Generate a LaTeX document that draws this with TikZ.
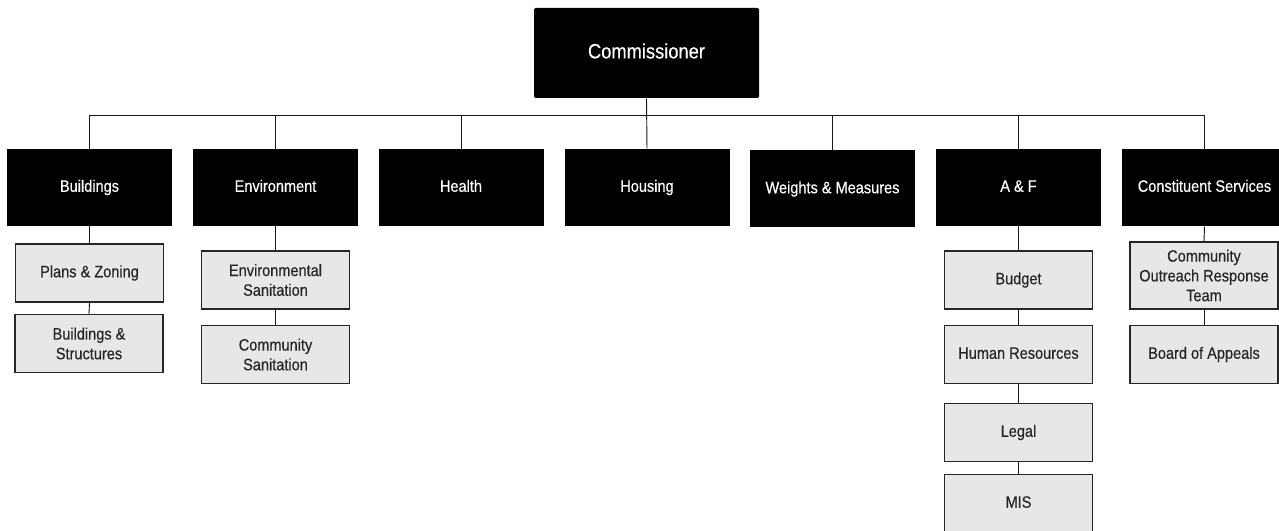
\documentclass[tikz,border=0pt]{standalone}
\usepackage{fontspec}
\setmainfont{Liberation Sans}[FakeStretch=0.88,FakeBold=0.4]
\begin{document}
\begin{tikzpicture}[x=0.75pt,y=-0.75pt,
  conn/.style={draw=black!90, line width=0.7pt},
  topbox/.style={fill=black, text=white, minimum width=168.75pt, minimum height=67.5pt, inner sep=0pt, rounded corners=1pt, text height=11.3pt, text depth=3.2pt, font=\fontsize{15.6}{18}\selectfont},
  deptbox/.style={fill=black, text=white, minimum width=123.75pt, minimum height=57.75pt, inner sep=0pt, text height=9pt, text depth=2.6pt, font=\fontsize{12.4}{14.8}\selectfont},
  subbox/.style={fill={rgb,255:red,231;green,231;blue,231}, draw=black!85, line width=1pt, text=black!85, minimum width=111pt, minimum height=43.5pt, inner sep=0pt, align=center, font=\fontsize{12.4}{14.8}\selectfont},
  subone/.style={subbox, text height=9pt, text depth=2.6pt}
]
\useasboundingbox (0,0) rectangle (1279,531);
% top
\node[topbox] (comm) at (646.5,53) {Commissioner};
% departments
\node[deptbox] (bld) at (89.5,187.5) {Buildings};
\node[deptbox] (env) at (275.5,187.5) {Environment};
\node[deptbox] (hlt) at (461,187.5) {Health};
\node[deptbox] (hou) at (647,187.5) {Housing};
\node[deptbox] (wm) at (832.5,189) {Weights \& Measures};
\node[deptbox] (af) at (1018.5,187.5) {A \& F};
\node[deptbox] (cs) at (1204.5,187.5) {Constituent Services};
% bus
\coordinate (busL) at (90,115);
\coordinate (busR) at (1204,115);
\draw[conn] (busL) -- (busR);
\draw[conn] (comm.south) -- (hou.north);
\foreach \d in {bld,env,hlt,wm,af,cs} {
  \draw[conn] (\d.north) -- (\d.north |- busL);
}
% subunits
\node[subone] (plans) at (89.5,273) {Plans \& Zoning};
\node[subbox] (bstr) at (89,343.5) {Buildings \&\\Structures};
\node[subbox] (envs) at (275.5,280) {Environmental\\Sanitation};
\node[subbox] (coms) at (275.5,354.5) {Community\\Sanitation};
\node[subone] (bud) at (1018.5,280) {Budget};
\node[subone] (hr) at (1018.5,354.5) {Human Resources};
\node[subone] (leg) at (1018.5,432.5) {Legal};
\node[subone] (mis) at (1018.5,503.5) {MIS};
\node[subbox, minimum height=50.25pt] (cor) at (1204,275.5) {Community\\Outreach Response\\Team};
\node[subone] (boa) at (1204,354.5) {Board of Appeals};
% sub connectors
\draw[conn] (bld.south) -- (plans.north);
\draw[conn] (plans.south) -- (bstr.north);
\draw[conn] (env.south) -- (envs.north);
\draw[conn] (envs.south) -- (coms.north);
\draw[conn] (af.south) -- (bud.north);
\draw[conn] (bud.south) -- (hr.north);
\draw[conn] (hr.south) -- (leg.north);
\draw[conn] (leg.south) -- (mis.north);
\draw[conn] (cs.south) -- (cor.north);
\draw[conn] (cor.south) -- (boa.north);
\end{tikzpicture}
\end{document}
